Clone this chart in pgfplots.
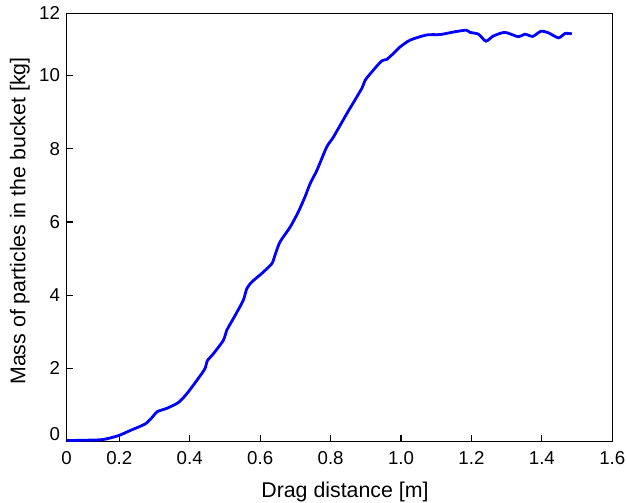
\documentclass[border=0pt]{standalone}
\usepackage{pgfplots}
\pgfplotsset{compat=1.18}
\usepackage{fontspec}
\setmainfont{Liberation Sans}
\begin{document}
\begin{tikzpicture}
\begin{axis}[
    scale only axis,
    width=409.2pt, height=321.2pt,
    xmin=0.0506, xmax=1.6,
    ymin=0, ymax=11.7,
    xtick={0.0506,0.2,0.4,0.6,0.8,1.0,1.2,1.4,1.6},
    xticklabels={0,0.2,0.4,0.6,0.8,1.0,1.2,1.4,1.6},
    ytick={2,4,6,8,10,11.7},
    yticklabels={2,4,6,8,10,12},
    % the 0 label sits a little above the axis in the original
    extra y ticks={0.2},
    extra y tick labels={0},
    extra y tick style={major tick length=0pt},
    tick pos=left,
    tick align=inside,
    major tick length=5pt,
    axis line style={line width=1.2pt},
    every tick/.style={black, line width=0.8pt},
    font=\fontsize{14}{16}\selectfont,
    xticklabel style={yshift=-4pt},
    yticklabel style={xshift=-1.5pt},
    xlabel={Drag distance [m]},
    ylabel={Mass of particles in the bucket [kg]},
    label style={font=\fontsize{16}{18}\selectfont},
    xlabel style={at={(axis description cs:0.51,-0.118)}, anchor=center},
    ylabel style={at={(axis description cs:-0.0856,0.515)}, anchor=center, rotate=0},
]
\addplot[color=blue, line width=2.1pt, smooth, tension=0.4] coordinates {
(0.0506,0.03)(0.145,0.05)(0.174,0.10)(0.202,0.18)(0.230,0.30)(0.273,0.48)
(0.292,0.65)(0.308,0.82)(0.335,0.91)(0.368,1.07)(0.391,1.30)(0.420,1.67)
(0.443,1.99)(0.450,2.21)(0.467,2.40)(0.495,2.76)(0.505,3.04)(0.510,3.13)
(0.529,3.45)(0.552,3.86)(0.562,4.18)(0.576,4.36)(0.604,4.59)(0.633,4.86)
(0.642,5.09)(0.656,5.45)(0.685,5.86)(0.708,6.27)(0.727,6.68)(0.742,7.05)
(0.761,7.41)(0.789,8.05)(0.808,8.32)(0.846,8.96)(0.888,9.64)(0.898,9.87)
(0.917,10.10)(0.945,10.40)(0.959,10.44)(0.978,10.60)(0.997,10.78)(1.026,10.97)
(1.073,11.11)(1.111,11.12)(1.149,11.19)(1.185,11.24)(1.196,11.18)(1.220,11.13)
(1.241,10.94)(1.262,11.08)(1.295,11.18)(1.333,11.06)(1.352,11.13)(1.374,11.07)
(1.397,11.21)(1.418,11.17)(1.447,11.03)(1.466,11.15)(1.485,11.14)
};
\end{axis}
\pgfresetboundingbox
\path[use as bounding box] ([shift={(-50pt,-45.4pt)}]current axis.south west) rectangle ([shift={(11pt,10pt)}]current axis.north east);
\end{tikzpicture}
\end{document}
